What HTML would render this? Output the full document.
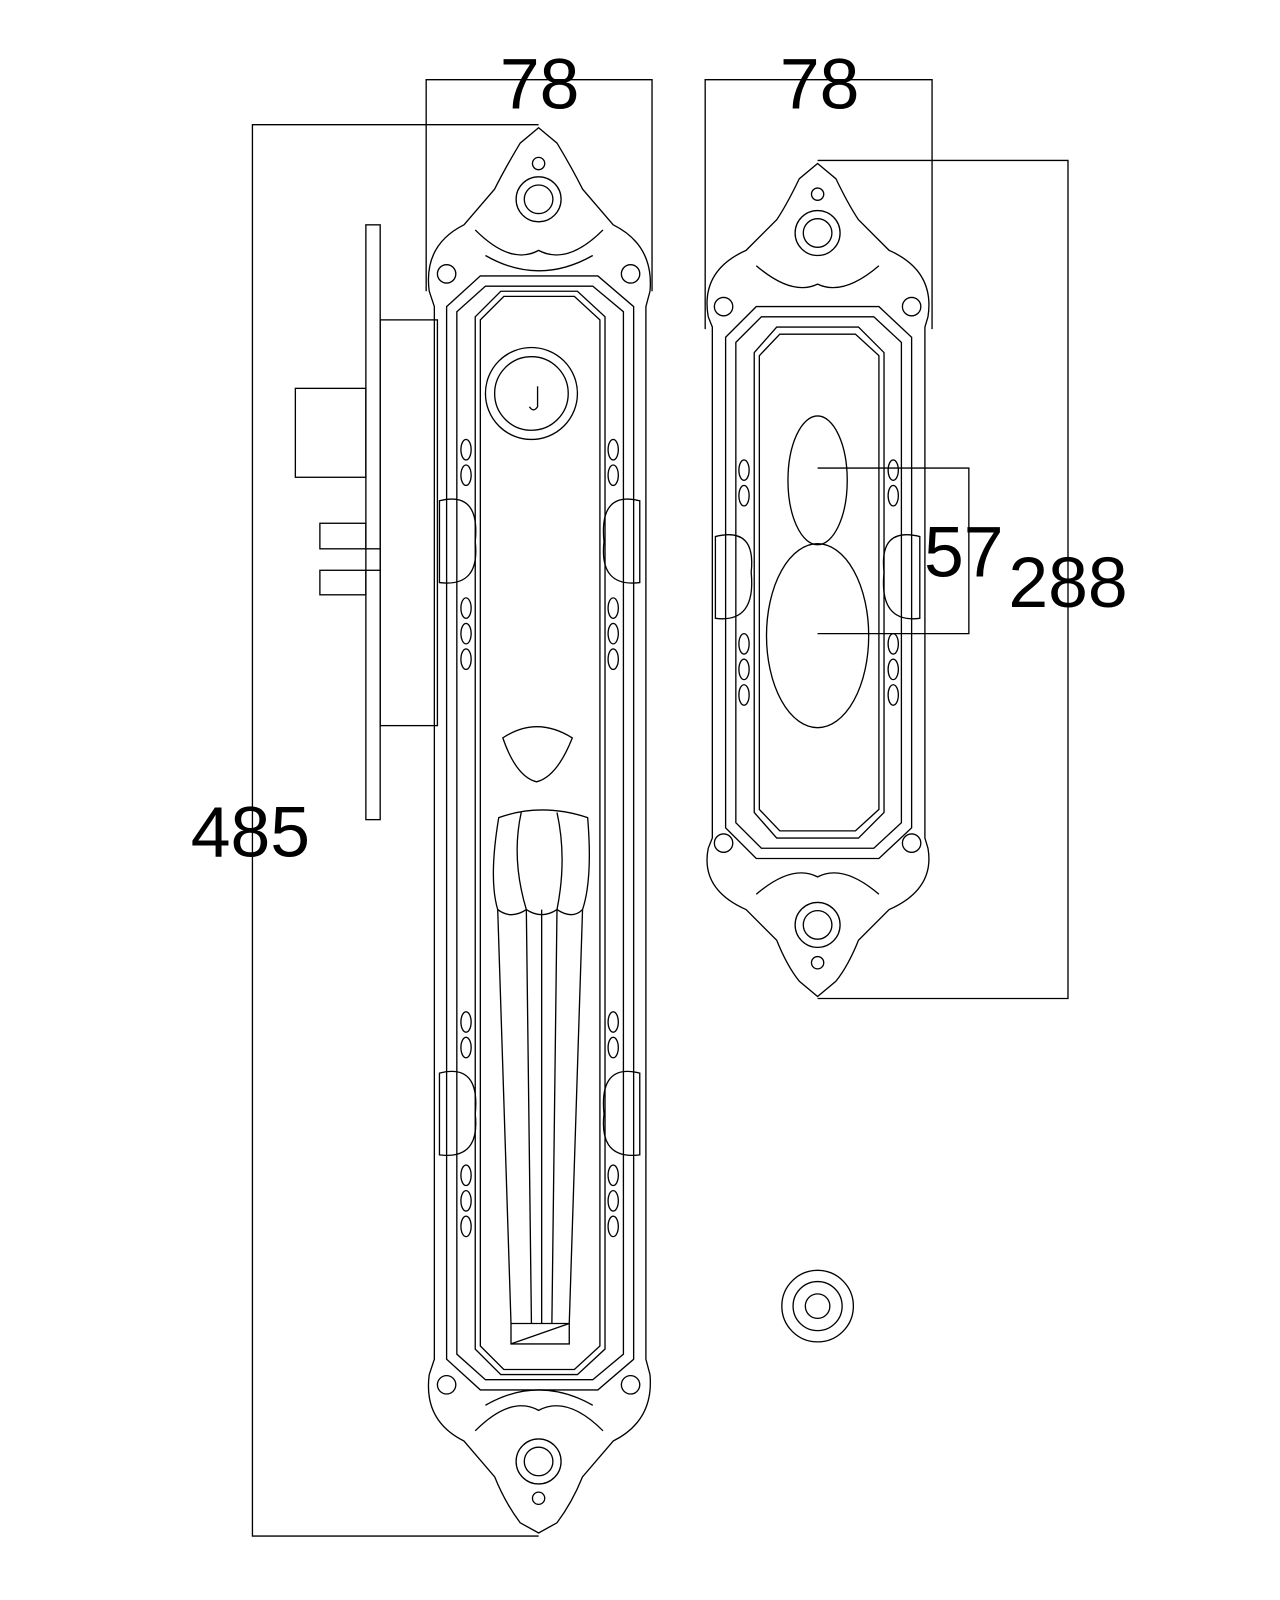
<!DOCTYPE html>
<html><head><meta charset="utf-8"><style>
html,body{margin:0;padding:0;background:#fff}
svg{display:block}
text{font-family:"Liberation Sans",sans-serif;fill:#000}
</style></head><body>
<svg width="1280" height="1600" viewBox="0 0 1280 1600" xmlns="http://www.w3.org/2000/svg">
<g transform="scale(1.022)">
<g fill="none" stroke="#000" stroke-width="1.3">
<polyline points="417,285 417,78 638,78 638,285"/>
<polyline points="690,322 690,78 912,78 912,322"/>
<polyline points="527,122 247,122 247,1503 527,1503"/>
<polyline points="800,157 1045,157 1045,977 800,977"/>
<polyline points="800,458 948,458 948,620 800,620"/>

<rect x="358" y="220" width="14" height="582"/>
<rect x="372" y="313" width="56" height="397"/>
<rect x="289" y="380" width="69" height="87"/>
<rect x="313" y="512" width="45" height="25"/>
<rect x="313" y="558" width="45" height="24"/>
<line x1="358" y1="537" x2="372" y2="537"/><line x1="358" y1="558" x2="372" y2="558"/>

<path d="M527,125 L545,140 Q560,165 570,185 L600,220 Q640,240 636,285 L632,300 L632,1330 L636,1345 Q640,1390 600,1410 L570,1445 Q560,1470 545,1490 L527,1500 L509,1490 Q494,1470 484,1445 L454,1410 Q414,1390 420,1345 L425,1330 L425,300 L420,285 Q414,240 454,220 L484,185 Q494,165 509,140 Z"/>
<path d="M437,300 L470,270 L585,270 L620,300 L620,1330 L585,1360 L470,1360 L437,1330 Z"/>
<path d="M447,305 L475,280 L580,280 L610,305 L610,1325 L580,1350 L475,1350 L447,1325 Z"/>
<path d="M465,310 L490,285 L565,285 L592,310 L592,1320 L565,1345 L490,1345 L465,1320 Z"/>
<path d="M470,313 L493,290 L562,290 L587,313 L587,1317 L562,1340 L493,1340 L470,1317 Z"/>
<circle cx="527" cy="195" r="22"/><circle cx="527" cy="195" r="14"/>
<circle cx="527" cy="1430" r="22"/><circle cx="527" cy="1430" r="14"/>
<circle cx="527" cy="160" r="6"/><circle cx="527" cy="1466" r="6"/>
<circle cx="437" cy="268" r="9"/><circle cx="617" cy="268" r="9"/>
<circle cx="437" cy="1355" r="9"/><circle cx="617" cy="1355" r="9"/>
<path d="M465,225 Q500,260 527,245 Q555,260 590,225"/>
<path d="M475,250 Q527,280 580,250"/>
<path d="M465,1400 Q500,1365 527,1380 Q555,1365 590,1400"/>
<path d="M475,1375 Q527,1345 580,1375"/>
<path d="M430,490 Q470,480 465,530 Q470,575 430,570 Z"/>
<path d="M626,490 Q586,480 591,530 Q586,575 626,570 Z"/>
<path d="M430,1050 Q470,1040 465,1090 Q470,1135 430,1130 Z"/>
<path d="M626,1050 Q586,1040 591,1090 Q586,1135 626,1130 Z"/>
<ellipse cx="456" cy="440" rx="5" ry="10"/><ellipse cx="456" cy="465" rx="5" ry="10"/>
<ellipse cx="456" cy="595" rx="5" ry="10"/><ellipse cx="456" cy="620" rx="5" ry="10"/><ellipse cx="456" cy="645" rx="5" ry="10"/>
<ellipse cx="600" cy="440" rx="5" ry="10"/><ellipse cx="600" cy="465" rx="5" ry="10"/>
<ellipse cx="600" cy="595" rx="5" ry="10"/><ellipse cx="600" cy="620" rx="5" ry="10"/><ellipse cx="600" cy="645" rx="5" ry="10"/>
<ellipse cx="456" cy="1000" rx="5" ry="10"/><ellipse cx="456" cy="1025" rx="5" ry="10"/>
<ellipse cx="456" cy="1150" rx="5" ry="10"/><ellipse cx="456" cy="1175" rx="5" ry="10"/><ellipse cx="456" cy="1200" rx="5" ry="10"/>
<ellipse cx="600" cy="1000" rx="5" ry="10"/><ellipse cx="600" cy="1025" rx="5" ry="10"/>
<ellipse cx="600" cy="1150" rx="5" ry="10"/><ellipse cx="600" cy="1175" rx="5" ry="10"/><ellipse cx="600" cy="1200" rx="5" ry="10"/>
<circle cx="520" cy="385" r="45"/><circle cx="520" cy="385" r="36"/>
<path d="M526,378 L526,398 Q522,404 518,398"/>
<path d="M492,722 Q525,700 560,722 Q545,760 525,765 Q505,760 492,722 Z"/>
<path d="M488,800 Q530,785 575,800 Q580,860 570,890 L557,1295 L557,1315 L500,1315 L500,1295 L487,890 Q478,860 488,800 Z"/>
<path d="M487,890 Q500,900 515,890 Q530,900 545,890 Q560,900 570,890"/>
<line x1="515" y1="890" x2="520" y2="1295"/><line x1="530" y1="890" x2="530" y2="1295"/><line x1="545" y1="890" x2="540" y2="1295"/>
<path d="M500,1295 L557,1295 L500,1315"/>
<path d="M510,795 Q500,840 515,890 M545,795 Q555,840 545,890"/>

<path d="M800,160 L818,175 Q830,200 840,215 L870,245 Q915,265 908,310 L905,320 L905,820 L908,830 Q915,870 870,890 L840,920 Q830,945 818,960 L800,975 L782,960 Q770,945 760,920 L730,890 Q685,870 693,830 L697,820 L697,320 L693,310 Q685,265 730,245 L760,215 Q770,200 782,175 Z"/>
<path d="M710,330 L740,300 L860,300 L892,330 L892,810 L860,840 L740,840 L710,810 Z"/>
<path d="M720,335 L745,310 L855,310 L882,335 L882,805 L855,830 L745,830 L720,805 Z"/>
<path d="M738,345 L760,320 L840,320 L865,345 L865,795 L840,820 L760,820 L738,795 Z"/>
<path d="M743,348 L763,327 L837,327 L860,348 L860,792 L837,813 L763,813 L743,792 Z"/>
<circle cx="800" cy="228" r="22"/><circle cx="800" cy="228" r="14"/>
<circle cx="800" cy="905" r="22"/><circle cx="800" cy="905" r="14"/>
<circle cx="800" cy="190" r="6"/><circle cx="800" cy="942" r="6"/>
<circle cx="708" cy="300" r="9"/><circle cx="892" cy="300" r="9"/>
<circle cx="708" cy="825" r="9"/><circle cx="892" cy="825" r="9"/>
<path d="M740,260 Q775,290 800,278 Q825,290 860,260"/>
<path d="M740,875 Q775,845 800,858 Q825,845 860,875"/>
<path d="M700,525 Q740,515 735,560 Q740,610 700,605 Z"/>
<path d="M900,525 Q860,515 865,560 Q860,610 900,605 Z"/>
<ellipse cx="728" cy="460" rx="5" ry="10"/><ellipse cx="728" cy="485" rx="5" ry="10"/>
<ellipse cx="728" cy="630" rx="5" ry="10"/><ellipse cx="728" cy="655" rx="5" ry="10"/><ellipse cx="728" cy="680" rx="5" ry="10"/>
<ellipse cx="874" cy="460" rx="5" ry="10"/><ellipse cx="874" cy="485" rx="5" ry="10"/>
<ellipse cx="874" cy="630" rx="5" ry="10"/><ellipse cx="874" cy="655" rx="5" ry="10"/><ellipse cx="874" cy="680" rx="5" ry="10"/>
<ellipse cx="800" cy="470" rx="29" ry="63"/>
<ellipse cx="800" cy="622" rx="50" ry="90"/>

<circle cx="800" cy="1278" r="35"/><circle cx="800" cy="1278" r="24"/><circle cx="800" cy="1278" r="12"/>
</g>
<g font-size="70">
<text x="528" y="106" text-anchor="middle">78</text>
<text x="802" y="106" text-anchor="middle">78</text>
<text x="245" y="838" text-anchor="middle">485</text>
<text x="1045" y="594" text-anchor="middle">288</text>
<text x="943" y="564" text-anchor="middle">57</text>
</g>
</g>
</svg>
</body></html>
